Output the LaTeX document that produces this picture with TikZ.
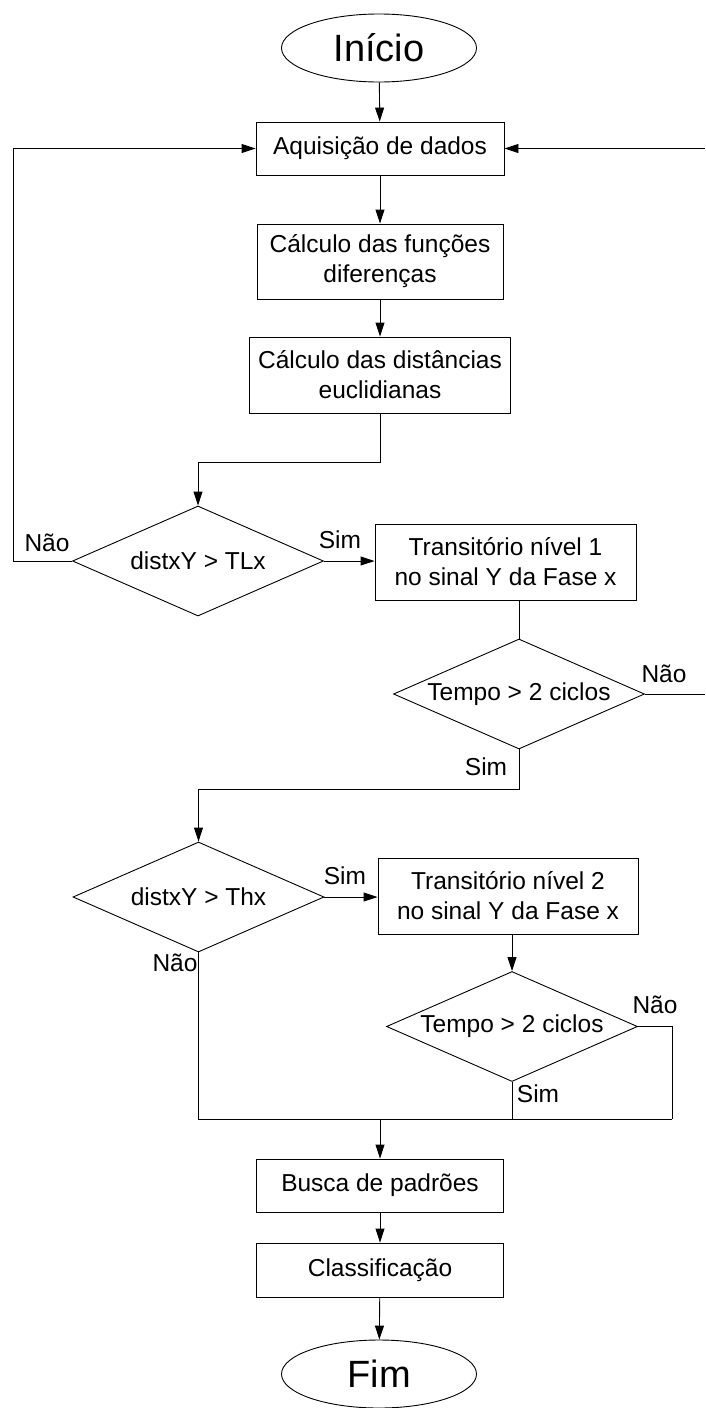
\documentclass[tikz,border=0pt]{standalone}
\usepackage{fontspec}
\setmainfont{Liberation Sans}
\usetikzlibrary{shapes.geometric,arrows.meta}
\tikzstyle{startstop} = [ellipse, draw, minimum width=195pt, minimum height=68pt, inner sep=0pt, font=\fontsize{38}{40}\selectfont]
\tikzstyle{process} = [rectangle, draw, align=center, inner sep=0pt, font=\fontsize{24.5}{30}\selectfont]
\tikzstyle{decision} = [diamond, draw, aspect=2.27, minimum width=251pt, minimum height=110pt, inner sep=0pt, font=\fontsize{24.5}{30}\selectfont]
\tikzstyle{lbl} = [inner sep=0pt, font=\fontsize{24.5}{30}\selectfont]
\tikzstyle{arrow} = [-{Triangle[length=14pt,width=9pt]}]
\begin{document}
\begin{tikzpicture}[x=1pt, y=-1pt, line width=0.9pt]
      \useasboundingbox (0,0) rectangle (705,1408);
      \node[startstop] (ini) at (379,48) {Início};
      \node[process, minimum width=248pt, minimum height=53pt] (aq) at (380,148.5) {Aquisição de dados};
      \node[process, minimum width=246pt, minimum height=75pt] (cf) at (380,261.5) {Cálculo das funções\\diferenças};
      \node[process, minimum width=261pt, minimum height=76pt] (cd) at (380,375) {Cálculo das distâncias\\euclidianas};
      \node[decision] (d1) at (198,561) {distxY > TLx};
      \node[process, minimum width=261pt, minimum height=76pt] (t1) at (505.5,562) {Transitório nível 1\\no sinal Y da Fase x};
      \node[decision] (d2) at (519,694) {Tempo > 2 ciclos};
      \node[decision] (d3) at (198.5,897) {distxY > Thx};
      \node[process, minimum width=260pt, minimum height=76pt] (t2) at (508,896) {Transitório nível 2\\no sinal Y da Fase x};
      \node[decision] (d4) at (512,1026.5) {Tempo > 2 ciclos};
      \node[process, minimum width=247pt, minimum height=53pt] (bp) at (380,1185.5) {Busca de padrões};
      \node[process, minimum width=247pt, minimum height=54pt] (cl) at (380,1270) {Classificação};
      \node[startstop] (fim) at (379,1374) {Fim};
      %labels
      \node[lbl] (n1) at (47,543) {Não};
      \node[lbl] (s1) at (340,540) {Sim};
      \node[lbl] (n2) at (664,674) {Não};
      \node[lbl] (s2) at (486,767) {Sim};
      \node[lbl] (s3) at (345,876) {Sim};
      \node[lbl] (n3) at (175,963) {Não};
      \node[lbl] (n4) at (655,1005) {Não};
      \node[lbl] (s4) at (538,1094) {Sim};
      %corners
      \coordinate (lft) at (13,561);
      \coordinate (rgt1) at (705,148.5);
      \coordinate (rgt2) at (705,694);
      \coordinate (jr) at (672,1119);
      \draw[arrow] (ini)--(aq);
      \draw[arrow] (aq)--(cf);
      \draw[arrow] (cf)--(cd);
      \draw[arrow] (cd.south)--++(0,49) -| (d1.north);
      \draw[arrow] (d1.west)--(lft) |- (aq.west);
      \draw[arrow] (rgt1)--(aq.east);
      \draw[arrow] (d1.east)--(d1.east -| t1.west);
      \draw (d2.north |- t1.south)--(d2.north);
      \draw (d2.east)--(rgt2);
      \draw[arrow] (d2.south)--++(0,40) -| (d3.north);
      \draw[arrow] (d3.east)--(d3.east -| t2.west);
      \draw[arrow] (d4.north |- t2.south)--(d4.north);
      \draw (d4.east) -| (jr);
      \draw (d3.south) |- (jr);
      \draw (d4.south)--(d4.south |- jr);
      \draw[arrow] (bp.north |- jr)--(bp.north);
      \draw[arrow] (bp)--(cl);
      \draw[arrow] (cl)--(fim);
\end{tikzpicture}
\end{document}
